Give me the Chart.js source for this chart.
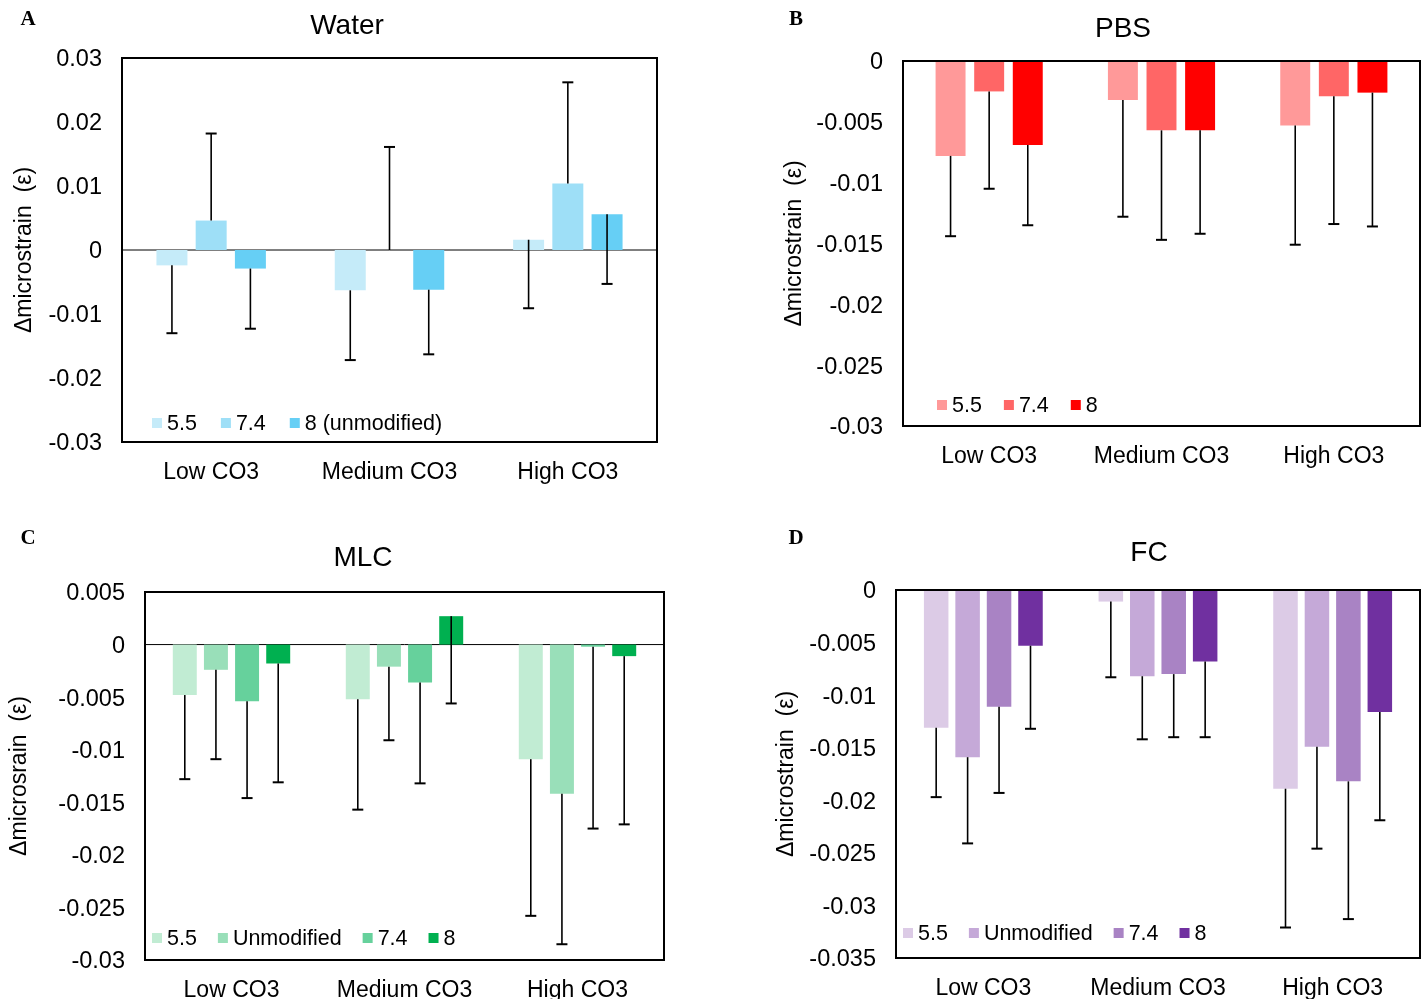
<!DOCTYPE html>
<html>
<head>
<meta charset="utf-8">
<script src="https://cdn.jsdelivr.net/npm/chart.js@4.4.0/dist/chart.umd.min.js"></script>
<style>
  body { margin: 0; background: #fff; }
  #wrap { position: relative; width: 1422px; height: 999px; }
  canvas { position: absolute; }
</style>
</head>
<body>
<div id="wrap">
  <canvas id="chartA" width="711" height="499" style="left:0;top:0"></canvas>
  <canvas id="chartB" width="711" height="499" style="left:711px;top:0"></canvas>
  <canvas id="chartC" width="711" height="500" style="left:0;top:499px"></canvas>
  <canvas id="chartD" width="711" height="500" style="left:711px;top:499px"></canvas>
</div>
<script>
// Categories shared by every panel
const categories = ['Low CO3', 'Medium CO3', 'High CO3'];

// A - Water
const waterSeries = ['5.5', '7.4', '8 (unmodified)'];
const water55 = [-0.0024, -0.0063, 0.0016];
const water74 = [0.0046, 0, 0.0104];
const water8 = [-0.0029, -0.0062, 0.0056];
const waterErr55 = [-0.0130, -0.0172, -0.0091];
const waterErr74 = [0.0182, 0.0161, 0.0262];
const waterErr8 = [-0.0123, -0.0163, -0.0053];
const waterTicks = [-0.03, -0.02, -0.01, 0, 0.01, 0.02, 0.03];

// B - PBS
const pbsSeries = ['5.5', '7.4', '8'];
const pbs55 = [-0.0078, -0.0032, -0.0053];
const pbs74 = [-0.0025, -0.0057, -0.0029];
const pbs8 = [-0.0069, -0.0057, -0.0026];
const pbsErr55 = [-0.0144, -0.0128, -0.0151];
const pbsErr74 = [-0.0105, -0.0147, -0.0134];
const pbsErr8 = [-0.0135, -0.0142, -0.0136];
const pbsTicks = [-0.03, -0.025, -0.02, -0.015, -0.01, -0.005, 0];

// C - MLC
const mlcSeries = ['5.5', 'Unmodified', '7.4', '8'];
const mlc55 = [-0.0048, -0.0052, -0.0109];
const mlcUnmod = [-0.0024, -0.0021, -0.0142];
const mlc74 = [-0.0054, -0.0036, -0.0002];
const mlc8 = [-0.0018, 0.0027, -0.0011];
const mlcErr55 = [-0.0128, -0.0157, -0.0258];
const mlcErrUnmod = [-0.0109, -0.0091, -0.0285];
const mlcErr74 = [-0.0146, -0.0132, -0.0175];
const mlcErr8 = [-0.0131, -0.0056, -0.0171];
const mlcTicks = [-0.03, -0.025, -0.02, -0.015, -0.01, -0.005, 0, 0.005];

// D - FC
const fcSeries = ['5.5', 'Unmodified', '7.4', '8'];
const fc55 = [-0.0131, -0.0011, -0.0189];
const fcUnmod = [-0.0159, -0.0082, -0.0149];
const fc74 = [-0.0111, -0.0080, -0.0182];
const fc8 = [-0.0053, -0.0068, -0.0116];
const fcErr55 = [-0.0197, -0.0083, -0.0321];
const fcErrUnmod = [-0.0241, -0.0142, -0.0246];
const fcErr74 = [-0.0193, -0.0140, -0.0313];
const fcErr8 = [-0.0132, -0.0140, -0.0219];
const fcTicks = [-0.035, -0.03, -0.025, -0.02, -0.015, -0.01, -0.005, 0];

const FONT = '"Liberation Sans", Arial, sans-serif';
Chart.defaults.font.family = FONT;
Chart.defaults.color = '#000';

// frame, zero line, error bars, legend and titles
const decoPlugin = {
    id: 'deco',
    beforeDatasetsDraw(chart) {
        const { ctx, chartArea } = chart;
        const y = chart.scales.y;
        const zeroY = y.getPixelForValue(0);
        if (zeroY > chartArea.top + 2 && zeroY < chartArea.bottom - 2) {
            ctx.save();
            ctx.strokeStyle = '#000';
            ctx.lineWidth = 1;
            ctx.beginPath();
            ctx.moveTo(chartArea.left, zeroY);
            ctx.lineTo(chartArea.right, zeroY);
            ctx.stroke();
            ctx.restore();
        }
    },
    afterDatasetsDraw(chart) {
        const { ctx, chartArea } = chart;
        const y = chart.scales.y;
        const p = chart.options.plugins.deco;

        // error bars
        ctx.save();
        ctx.strokeStyle = '#000';
        ctx.lineWidth = 1.6;
        chart.data.datasets.forEach((ds, i) => {
            chart.getDatasetMeta(i).data.forEach((bar, j) => {
                const y0 = y.getPixelForValue(ds.data[j]);
                const y1 = y.getPixelForValue(ds.errEnd[j]);
                ctx.beginPath();
                ctx.moveTo(bar.x, y0);
                ctx.lineTo(bar.x, y1);
                ctx.stroke();
                ctx.lineWidth = 2;
                ctx.beginPath();
                ctx.moveTo(bar.x - 5.5, y1);
                ctx.lineTo(bar.x + 5.5, y1);
                ctx.stroke();
                ctx.lineWidth = 1.6;
            });
        });
        ctx.restore();

        // frame
        ctx.save();
        ctx.strokeStyle = '#000';
        ctx.lineWidth = 2;
        ctx.strokeRect(chartArea.left, chartArea.top, chartArea.right - chartArea.left, chartArea.bottom - chartArea.top);
        ctx.restore();

        // legend inside the plot
        ctx.save();
        ctx.font = '21.5px ' + FONT;
        ctx.textBaseline = 'middle';
        ctx.textAlign = 'left';
        let lx = chartArea.left + p.legendX;
        const ly = chartArea.bottom - p.legendY;
        chart.data.datasets.forEach(ds => {
            ctx.fillStyle = ds.backgroundColor;
            ctx.fillRect(lx, ly - 5, 10, 10);
            ctx.fillStyle = '#000';
            ctx.fillText(ds.label, lx + 15, ly + 1);
            lx += 15 + ctx.measureText(ds.label).width + p.legendGap;
        });
        ctx.restore();

        // title and panel letter
        ctx.save();
        ctx.fillStyle = '#000';
        ctx.textAlign = 'center';
        ctx.textBaseline = 'middle';
        ctx.font = '28px ' + FONT;
        ctx.fillText(p.title, p.titleX, p.titleY + 1);
        ctx.font = 'bold 21px "Liberation Serif", "Times New Roman", serif';
        ctx.fillText(p.letter, p.letterX, p.letterY + 2);
        ctx.restore();
    }
};

const buildPanel = (p) => {
    const canvas = document.getElementById(p.id);
    const datasets = p.series.map((name, i) => ({
        label: name,
        data: p.values[i],
        errEnd: p.errors[i],
        backgroundColor: p.colors[i],
        borderWidth: 0,
        categoryPercentage: p.catPct,
        barPercentage: p.barPct
    }));

    new Chart(canvas, {
        type: 'bar',
        data: { labels: categories, datasets },
        options: {
            responsive: false,
            animation: false,
            layout: {
                padding: { top: p.area.top, right: canvas.width - p.area.right, left: 0, bottom: 0 }
            },
            plugins: {
                legend: { display: false },
                tooltip: { enabled: false },
                deco: p
            },
            scales: {
                x: {
                    grid: { display: false, drawTicks: false },
                    border: { display: false },
                    ticks: { padding: 17, font: { size: 23 } },
                    afterFit: s => { s.height = canvas.height - p.area.bottom; }
                },
                y: {
                    min: p.ticks[0],
                    max: p.ticks[p.ticks.length - 1],
                    grid: { display: false, drawTicks: false },
                    border: { display: false },
                    afterBuildTicks: s => { s.ticks = p.ticks.map(v => ({ value: v })); },
                    ticks: {
                        padding: 20,
                        labelOffset: 2,
                        font: { size: 23.5 },
                        callback: v => String(+v.toFixed(3))
                    },
                    title: {
                        display: true,
                        text: p.yTitle,
                        font: { size: 23 },
                        padding: { top: p.yTitlePad, bottom: 0 }
                    },
                    afterFit: s => { s.width = p.area.left; }
                }
            }
        },
        plugins: [decoPlugin]
    });
};

document.addEventListener('DOMContentLoaded', () => {
    buildPanel({
        id: 'chartA', title: 'Water', letter: 'A',
        titleX: 347, titleY: 25, letterX: 28, letterY: 18,
        yTitle: 'Δmicrostrain  (ε)', yTitlePad: 11,
        area: { left: 122, top: 58, right: 657, bottom: 442 },
        ticks: waterTicks,
        series: waterSeries,
        values: [water55, water74, water8],
        errors: [waterErr55, waterErr74, waterErr8],
        colors: ['#c5ebf9', '#9edff7', '#66cff5'],
        catPct: 0.66, barPct: 0.79,
        legendX: 30, legendY: 19, legendGap: 24
    });

    buildPanel({
        id: 'chartB', title: 'PBS', letter: 'B',
        titleX: 412, titleY: 28, letterX: 85, letterY: 18,
        yTitle: 'Δmicrostrain  (ε)', yTitlePad: 70,
        area: { left: 192, top: 61, right: 709, bottom: 426 },
        ticks: pbsTicks,
        series: pbsSeries,
        values: [pbs55, pbs74, pbs8],
        errors: [pbsErr55, pbsErr74, pbsErr8],
        colors: ['#ff9999', '#ff6666', '#ff0000'],
        catPct: 0.672, barPct: 0.776,
        legendX: 34, legendY: 21, legendGap: 22
    });

    buildPanel({
        id: 'chartC', title: 'MLC', letter: 'C',
        titleX: 363, titleY: 58, letterX: 28, letterY: 38,
        yTitle: 'Δmicrosrain  (ε)', yTitlePad: 6,
        area: { left: 145, top: 93, right: 664, bottom: 461 },
        ticks: mlcTicks,
        series: mlcSeries,
        values: [mlc55, mlcUnmod, mlc74, mlc8],
        errors: [mlcErr55, mlcErrUnmod, mlcErr74, mlcErr8],
        colors: ['#c1ecd3', '#99dfb9', '#66d19c', '#00b050'],
        catPct: 0.72, barPct: 0.77,
        legendX: 7, legendY: 22, legendGap: 21
    });

    buildPanel({
        id: 'chartD', title: 'FC', letter: 'D',
        titleX: 438, titleY: 53, letterX: 85, letterY: 38,
        yTitle: 'Δmicrostrain  (ε)', yTitlePad: 62,
        area: { left: 185, top: 91, right: 709, bottom: 459 },
        ticks: fcTicks,
        series: fcSeries,
        values: [fc55, fcUnmod, fc74, fc8],
        errors: [fcErr55, fcErrUnmod, fcErr74, fcErr8],
        colors: ['#dccbe6', '#c5a9d8', '#a983c4', '#7030a0'],
        catPct: 0.72, barPct: 0.78,
        legendX: 7, legendY: 25, legendGap: 21
    });
});
</script>
</body>
</html>
